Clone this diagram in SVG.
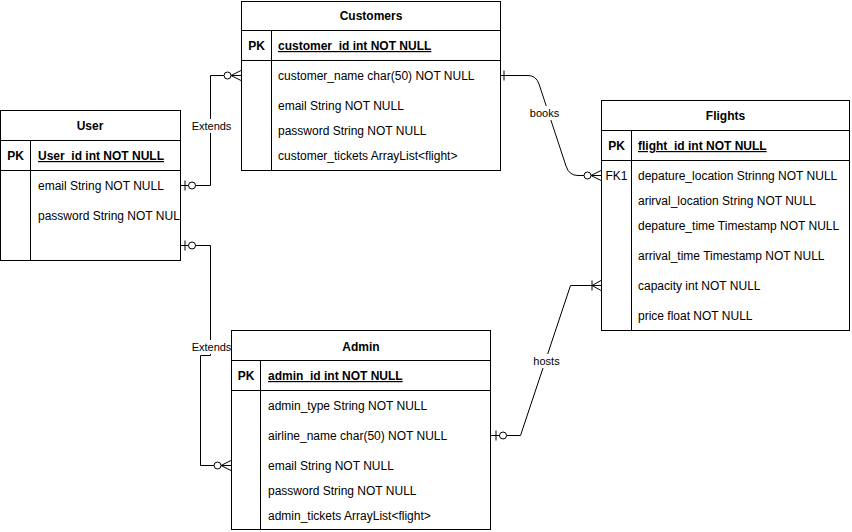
<svg xmlns="http://www.w3.org/2000/svg" width="852" height="532" viewBox="0 0 852 532">
<style>
text{font-family:"Liberation Sans",Arial,Helvetica,sans-serif;font-size:12px;fill:#000}
.t{font-weight:bold;text-anchor:middle}
.pk{font-weight:bold;text-anchor:middle}
.pka{font-weight:bold;text-decoration:underline}
.c{text-anchor:middle}
.lbl{font-size:11px;text-anchor:middle}
.box{fill:#fff;stroke:#000;stroke-width:1}
.ln{stroke:#000;stroke-width:1;fill:none}
.edge{stroke:#000;stroke-width:1;fill:none}
.bg{fill:#fff;stroke:none}
</style>
<defs>
<marker id="zeroOne" markerUnits="userSpaceOnUse" orient="auto-start-reverse" refX="0" refY="0" markerWidth="30" markerHeight="20" overflow="visible">
<path d="M-5,-5 L-5,5" stroke="#000" fill="none"/>
<circle cx="-12" cy="0" r="3.5" fill="#fff" stroke="#000"/>
</marker>
<marker id="zeroMany" markerUnits="userSpaceOnUse" orient="auto-start-reverse" refX="0" refY="0" markerWidth="30" markerHeight="20" overflow="visible">
<path d="M0,-5 L-10,0 L0,5 M-10,0 L0,0" stroke="#000" fill="none"/>
<circle cx="-13.5" cy="0" r="3.5" fill="#fff" stroke="#000"/>
</marker>
<marker id="oneMany" markerUnits="userSpaceOnUse" orient="auto-start-reverse" refX="0" refY="0" markerWidth="30" markerHeight="20" overflow="visible">
<path d="M0,-5 L-9,0 L0,5 M-9,0 L0,0 M-9,-5 L-9,5" stroke="#000" fill="none"/>
</marker>
<marker id="one" markerUnits="userSpaceOnUse" orient="auto-start-reverse" refX="0" refY="0" markerWidth="30" markerHeight="20" overflow="visible">
<path d="M-4,-5 L-4,5" stroke="#000" fill="none"/>
</marker>
</defs>
<rect width="852" height="532" fill="#fff"/>

<g id="connectors">
<path class="edge" d="M180,185.5 H210.5 V75.5 H241" marker-start="url(#zeroOne)" marker-end="url(#zeroMany)"/>
<rect class="bg" x="191" y="119" width="41" height="14"/>
<text class="lbl" x="211.5" y="130">Extends</text>

<path class="edge" d="M180,245.5 H210.5 V355.5 H200.5 V465.5 H231" marker-start="url(#zeroOne)" marker-end="url(#zeroMany)"/>
<rect class="bg" x="191" y="340" width="41" height="14"/>
<text class="lbl" x="211.5" y="351">Extends</text>

<path class="edge" d="M500,75.5 H528 Q536,75.5 539,84 L566,166 Q569,175.5 578,175.5 H601" marker-start="url(#one)" marker-end="url(#zeroMany)"/>
<rect class="bg" x="528" y="106" width="33" height="14"/>
<text class="lbl" x="544.5" y="117">books</text>

<path class="edge" d="M491,435.5 H520.5 L570.5,285.5 H601" marker-start="url(#zeroOne)" marker-end="url(#oneMany)"/>
<rect class="bg" x="531" y="354" width="31" height="14"/>
<text class="lbl" x="546.5" y="365">hosts</text>
</g>

<g id="User">
<rect class="box" x="0.5" y="110.5" width="180" height="150"/>
<path class="ln" d="M0.5,140.5 H180.5 M0.5,170.5 H180.5 M30.5,140.5 V260.5"/>
<text class="t" x="90" y="130">User</text>
<text class="pk" x="15.5" y="160">PK</text>
<text class="pka" x="38" y="160">User_id int NOT NULL</text>
<text x="38" y="190">email String NOT NULL</text>
<text x="38" y="220">password String NOT NUL</text>
</g>

<g id="Customers">
<rect class="box" x="241.5" y="1.5" width="259" height="169"/>
<path class="ln" d="M241.5,30.5 H500.5 M241.5,60.5 H500.5 M271.5,30.5 V170.5"/>
<text class="t" x="371" y="20">Customers</text>
<text class="pk" x="256.5" y="50">PK</text>
<text class="pka" x="278" y="50">customer_id int NOT NULL</text>
<text x="278" y="80">customer_name char(50) NOT NULL</text>
<text x="278" y="110">email String NOT NULL</text>
<text x="278" y="135">password String NOT NULL</text>
<text x="278" y="160">customer_tickets ArrayList&lt;flight&gt;</text>
</g>

<g id="Flights">
<rect class="box" x="601.5" y="100.5" width="248" height="230"/>
<path class="ln" d="M601.5,130.5 H849.5 M601.5,160.5 H849.5 M631.5,130.5 V330.5"/>
<text class="t" x="725.5" y="120">Flights</text>
<text class="pk" x="616.5" y="150">PK</text>
<text class="pka" x="638" y="150">flight_id int NOT NULL</text>
<text class="c" x="616.5" y="180">FK1</text>
<text x="638" y="180">depature_location Strinng NOT NULL</text>
<text x="638" y="205">arirval_location String NOT NULL</text>
<text x="638" y="230">depature_time Timestamp NOT NULL</text>
<text x="638" y="260">arrival_time Timestamp NOT NULL</text>
<text x="638" y="290">capacity int NOT NULL</text>
<text x="638" y="320">price float NOT NULL</text>
</g>

<g id="Admin">
<rect class="box" x="231.5" y="330.5" width="259" height="199"/>
<path class="ln" d="M231.5,360.5 H490.5 M231.5,390.5 H490.5 M260.5,360.5 V529.5"/>
<text class="t" x="361" y="351">Admin</text>
<text class="pk" x="246" y="380">PK</text>
<text class="pka" x="268" y="380">admin_id int NOT NULL</text>
<text x="268" y="410">admin_type String NOT NULL</text>
<text x="268" y="440">airline_name char(50) NOT NULL</text>
<text x="268" y="470">email String NOT NULL</text>
<text x="268" y="495">password String NOT NULL</text>
<text x="268" y="520">admin_tickets ArrayList&lt;flight&gt;</text>
</g>
</svg>
